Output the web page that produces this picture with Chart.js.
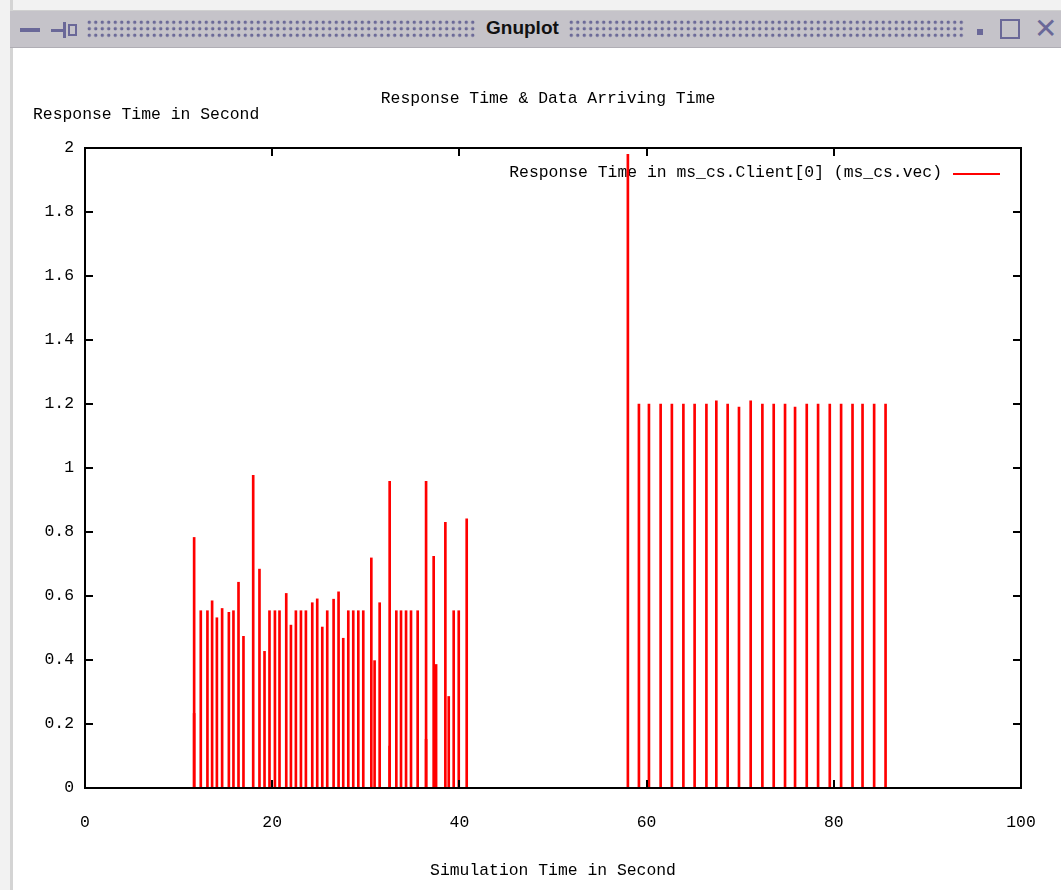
<!DOCTYPE html>
<html>
<head>
<meta charset="utf-8">
<script src="https://cdn.jsdelivr.net/npm/chart.js@4/dist/chart.umd.min.js"></script>
<style>
  html, body { margin: 0; padding: 0; background: #fff; }
  #wrap { position: relative; width: 1061px; height: 890px; overflow: hidden; background: #fff; }
  #chart { position: absolute; left: 0; top: 0; }
  #frameTop { position: absolute; left: 0; top: 0; width: 1061px; height: 10px; background: #f2f2f2; border-bottom: 1px solid #d0d0d0; }
  #frameLeft { position: absolute; left: 0; top: 0; width: 10px; height: 890px; background: #f2f2f2; border-right: 3px solid #d4d4d4; }
  #titlebar { position: absolute; left: 10px; top: 11px; width: 1051px; height: 36px; background: #c5c3c9; border-bottom: 1px solid #b0aeb5; }
  .dots { position: absolute; top: 8px; height: 19px;
    background-image: radial-gradient(circle, #6c6a98 1.5px, transparent 2px);
    background-size: 6.5px 6.5px; }
  #tbText { position: absolute; left: 476px; top: 6px; font: bold 19px "Liberation Sans", sans-serif; color: #111; }
  .ico { position: absolute; background: #6a6898; }
</style>
</head>
<body>
<div id="wrap">
  <canvas id="chart" width="1061" height="890"></canvas>
  <div id="frameTop"></div>
  <div id="frameLeft"></div>
  <div id="titlebar">
    <div class="ico" style="left:10px;top:17px;width:20px;height:4px;"></div>
    <div class="ico" style="left:41px;top:18px;width:12px;height:3px;"></div>
    <div class="ico" style="left:53px;top:11px;width:3px;height:16px;"></div>
    <div class="ico" style="left:58px;top:13px;width:9px;height:12px;background:none;border:2px solid #6a6898;box-sizing:border-box;"></div>
    <div class="dots" style="left:76px;width:390px;"></div>
    <div id="tbText">Gnuplot</div>
    <div class="dots" style="left:558px;width:396px;"></div>
    <div class="ico" style="left:967px;top:18px;width:6px;height:6px;"></div>
    <div class="ico" style="left:990px;top:8px;width:20px;height:20px;background:none;border:2px solid #6a6898;box-sizing:border-box;"></div>
    <div style="position:absolute;left:1024px;top:1px;font:28px 'DejaVu Sans',sans-serif;color:#6a6898;">&#x2715;</div>
  </div>
</div>
<script>
// Response time impulses (simulation time in s, response time in s)
const simTimes = [
  11.66, 11.66, 12.37, 13.08, 13.58, 14.09, 14.65, 15.37, 15.86, 16.40, 16.93,
  17.97, 18.64, 19.18, 19.71, 20.29, 20.78, 21.50, 22.00, 22.53, 23.07, 23.60,
  24.28, 24.81, 25.35, 25.88, 26.56, 27.09, 27.59, 28.13, 28.66, 29.20, 29.73,
  30.59, 30.94, 31.48, 32.55, 32.55, 33.26, 33.76, 34.30, 34.83, 35.54, 36.44,
  36.44, 37.25, 37.51, 38.50, 38.86, 39.39, 39.93, 40.78,
  58.00, 59.18, 60.25, 61.50, 62.70, 63.93, 65.13, 66.39, 67.45, 68.66, 69.87,
  71.12, 72.37, 73.58, 74.79, 75.86, 77.11, 78.32, 79.57, 80.78, 82.00, 83.07,
  84.31, 85.53
];
const responseTimes = [
  0.783, 0.233, 0.554, 0.554, 0.585, 0.532, 0.561, 0.549, 0.554, 0.643, 0.474,
  0.977, 0.684, 0.427, 0.554, 0.554, 0.554, 0.608, 0.509, 0.554, 0.554, 0.554,
  0.579, 0.591, 0.503, 0.554, 0.590, 0.613, 0.468, 0.554, 0.554, 0.554, 0.554,
  0.719, 0.398, 0.579, 0.958, 0.131, 0.554, 0.554, 0.554, 0.554, 0.554, 0.958,
  0.152, 0.724, 0.386, 0.830, 0.286, 0.554, 0.554, 0.841,
  1.980, 1.200, 1.200, 1.200, 1.200, 1.200, 1.200, 1.200, 1.210, 1.200, 1.190,
  1.210, 1.200, 1.200, 1.200, 1.190, 1.200, 1.200, 1.200, 1.200, 1.200, 1.200,
  1.200, 1.200
];
const xTicks = [0, 20, 40, 60, 80, 100];
const yTicks = [0, 0.2, 0.4, 0.6, 0.8, 1, 1.2, 1.4, 1.6, 1.8, 2];

const chartTitle = 'Response Time & Data Arriving Time';
const xTitle = 'Simulation Time in Second';
const yTitle = 'Response Time in Second';
const seriesLabel = 'Response Time in ms_cs.Client[0] (ms_cs.vec)';

const FONT = '"Liberation Mono", "DejaVu Sans Mono", monospace';

// gnuplot style frame, mirrored inward ticks, titles and key
const gnuplotFrame = {
  id: 'gnuplotFrame',
  beforeDatasetsDraw(chart) {
    const ctx = chart.ctx;
    ctx.save();
    ctx.fillStyle = '#000';
    ctx.font = '16.4px ' + FONT;
    ctx.textBaseline = 'middle';
    ctx.textAlign = 'right';
    ctx.fillText(seriesLabel, 942, 173);
    ctx.strokeStyle = '#ff0000';
    ctx.lineWidth = 2;
    ctx.beginPath();
    ctx.moveTo(953, 174);
    ctx.lineTo(1000, 174);
    ctx.stroke();
    ctx.restore();
  },
  afterDraw(chart) {
    const ctx = chart.ctx;
    const a = chart.chartArea;
    const xs = chart.scales.x, ys = chart.scales.y;
    ctx.save();
    ctx.strokeStyle = '#000';
    ctx.lineWidth = 2;
    ctx.strokeRect(a.left, a.top, a.right - a.left, a.bottom - a.top);
    ctx.beginPath();
    yTicks.forEach(v => {
      const py = Math.round(ys.getPixelForValue(v));
      ctx.moveTo(a.left, py); ctx.lineTo(a.left + 8, py);
      ctx.moveTo(a.right, py); ctx.lineTo(a.right - 8, py);
    });
    xTicks.forEach(v => {
      const px = Math.round(xs.getPixelForValue(v));
      ctx.moveTo(px, a.bottom); ctx.lineTo(px, a.bottom - 8);
      ctx.moveTo(px, a.top); ctx.lineTo(px, a.top + 8);
    });
    ctx.stroke();

    ctx.fillStyle = '#000';
    ctx.font = '16.4px ' + FONT;
    ctx.textBaseline = 'middle';
    ctx.textAlign = 'center';
    ctx.fillText(chartTitle, 548, 99);
    ctx.fillText(xTitle, 553, 871);
    ctx.textAlign = 'left';
    ctx.fillText(yTitle, 33, 115);
    ctx.restore();
  }
};

new Chart(document.getElementById('chart'), {
  type: 'bar',
  data: {
    datasets: [{
      label: seriesLabel,
      data: simTimes.map((t, i) => ({ x: t, y: responseTimes[i] })),
      backgroundColor: '#ff0000',
      borderWidth: 0,
      barThickness: 2
    }]
  },
  options: {
    responsive: false,
    animation: false,
    devicePixelRatio: 1,
    layout: { padding: { left: 15, top: 148, right: 40, bottom: 62 } },
    plugins: {
      legend: { display: false },
      title: { display: false },
      tooltip: { enabled: false }
    },
    scales: {
      x: {
        type: 'linear',
        min: 0,
        max: 100,
        offset: false,
        afterBuildTicks: s => { s.ticks = xTicks.map(v => ({ value: v })); },
        afterFit: s => { s.height = 40; },
        grid: { display: false, drawTicks: false },
        border: { display: false },
        ticks: { color: '#000', padding: 25, maxRotation: 0, font: { family: FONT, size: 16.4 } }
      },
      y: {
        min: 0,
        max: 2,
        afterBuildTicks: s => { s.ticks = yTicks.map(v => ({ value: v })); },
        afterFit: s => { s.width = 70; },
        grid: { display: false, drawTicks: false },
        border: { display: false },
        ticks: {
          color: '#000',
          padding: 11,
          font: { family: FONT, size: 16.4 },
          callback: v => String(v)
        }
      }
    }
  },
  plugins: [gnuplotFrame]
});
</script>
</body>
</html>
